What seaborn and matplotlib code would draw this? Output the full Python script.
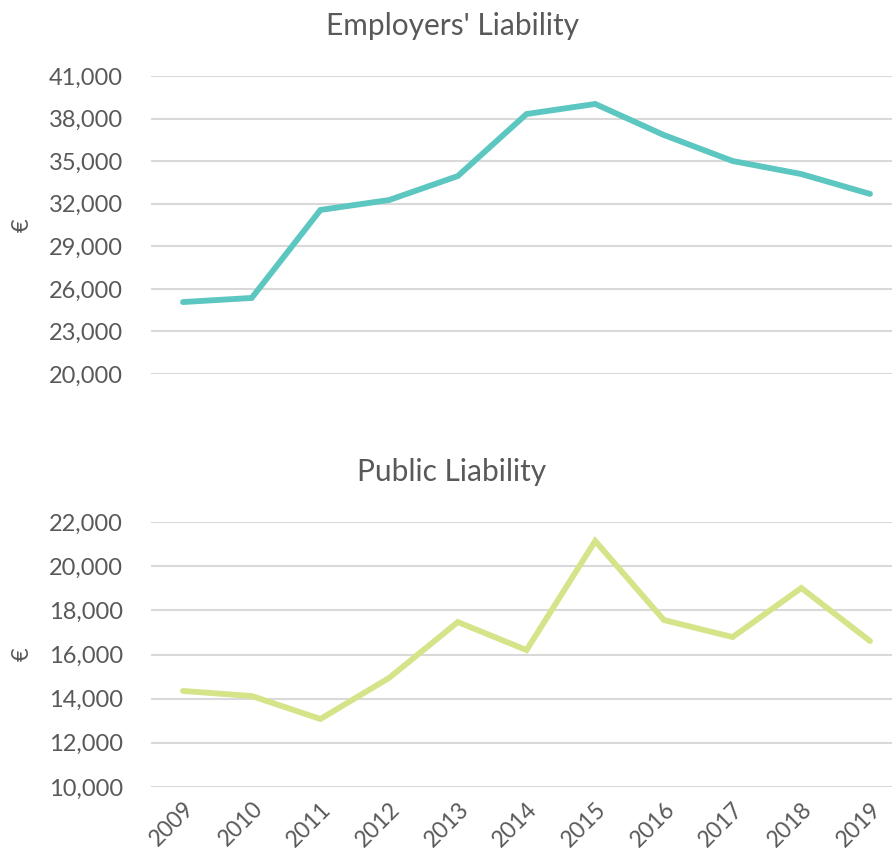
"""
Employers' Liability / Public Liability - two stacked line charts (seaborn)
"""

import matplotlib
matplotlib.use("Agg")
import matplotlib.pyplot as plt
import seaborn as sns
import pandas as pd
from matplotlib.ticker import FuncFormatter

years = ["2009", "2010", "2011", "2012", "2013", "2014",
         "2015", "2016", "2017", "2018", "2019"]
employers = [25070, 25360, 31560, 32260, 33950, 38320,
             39030, 36840, 35010, 34090, 32690]
public = [14350, 14120, 13080, 14940, 17470, 16200,
          21140, 17560, 16790, 19010, 16610]

TEXT = "#595959"
GRID = "#D9D9D9"
TEAL = "#5CC6C0"
GREEN = "#D5E488"

sns.set_theme(style="white")
plt.rcParams["font.family"] = ["Lato", "DejaVu Sans"]

df = pd.DataFrame({"x": range(len(years)), "Year": years,
                   "Employers": employers, "Public": public})

fig = plt.figure(figsize=(8.92, 8.59), dpi=100)
ax1 = fig.add_axes([151 / 892, 1 - 374 / 859, 741 / 892, 298 / 859])
ax2 = fig.add_axes([151 / 892, 1 - 787 / 859, 741 / 892, 265 / 859])

fmt = FuncFormatter(lambda v, _: f"{v:,.0f}")

panels = [
    (ax1, "Employers", TEAL, (20000, 41000), 3000, "Employers' Liability", 26, 225),
    (ax2, "Public", GREEN, (10000, 22000), 2000, "Public Liability", 472, 654),
]
for ax, col, color, ylim, step, title, ty, ly in panels:
    sns.lineplot(data=df, x="x", y=col, ax=ax, color=color, linewidth=4.2,
                 solid_capstyle="round", solid_joinstyle="miter")
    ax.set_ylim(*ylim)
    ax.set_xlim(-0.466, 10.32)
    ax.set_yticks(range(ylim[0], ylim[1] + 1, step))
    ax.yaxis.set_major_formatter(fmt)
    ax.grid(axis="y", color=GRID, linewidth=1.5)
    ax.set_axisbelow(True)
    for s in ax.spines.values():
        s.set_visible(False)
    ax.tick_params(axis="y", length=0, labelsize=17, labelcolor=TEXT, pad=20)
    ax.tick_params(axis="x", length=0, labelsize=16.5, labelcolor=TEXT)
    ax.set_xlabel("")
    ax.set_ylabel("")
    fig.text(22 / 892, 1 - ly / 859, "€", rotation=90, ha="center", va="center",
             fontsize=17, color=TEXT)
    fig.text(452 / 892, 1 - ty / 859, title, ha="center", va="center",
             fontsize=21.5, color=TEXT)

ax1.set_xticks([])
ax2.set_xticks(df["x"])
ax2.set_xticklabels(years, rotation=45, ha="right", rotation_mode="anchor")
ax2.tick_params(axis="x", pad=8)

fig.savefig("out.png", dpi=100, facecolor="white")
